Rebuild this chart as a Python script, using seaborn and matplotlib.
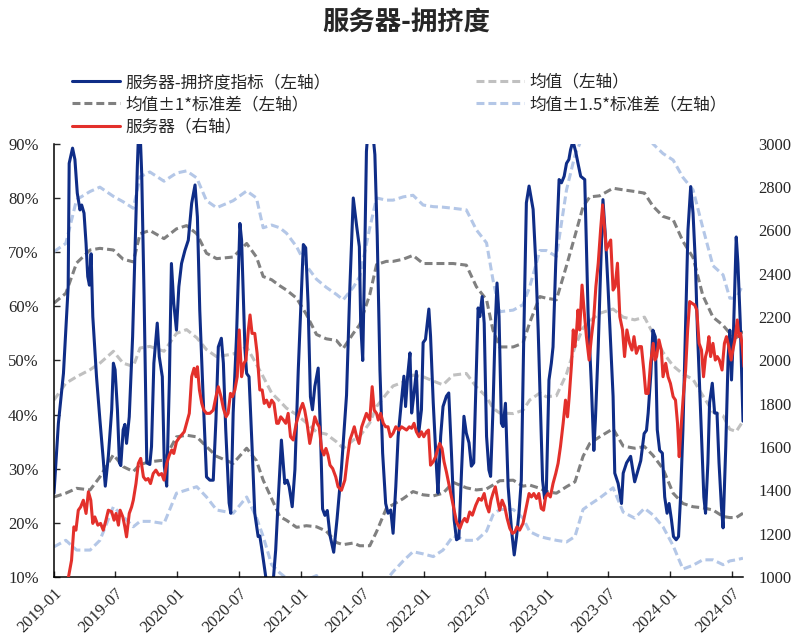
import pandas as pd
import matplotlib
matplotlib.use('Agg')
import matplotlib.pyplot as plt
import matplotlib.dates as mdates
from matplotlib.ticker import FuncFormatter
import seaborn as sns

sns.set_style('ticks')
plt.rcParams['font.family'] = ['Liberation Serif', 'Noto Sans CJK SC']
plt.rcParams['axes.unicode_minus'] = False

START = pd.Timestamp('2019-01-01')

# ---------------------------------------------------------------
# data (x = days since 2019-01-01)
# ---------------------------------------------------------------
# 服务器-拥挤度指标, %
crowd_day = [0, 13, 28, 37, 42, 45, 55, 62, 69, 77, 82, 89, 95, 100, 105, 110, 115, 126, 136, 146,
             152, 161, 171, 176, 181, 188, 194, 198, 205, 210, 215, 223, 233, 240, 247, 250, 256, 260, 267, 275,
             284, 289, 296, 306, 312, 321, 327, 334, 342, 348, 355, 363, 370, 378, 388, 398, 408, 418, 425, 432,
             442, 452, 462, 472, 480, 487, 496, 502, 509, 519, 524, 531, 541, 551, 556, 566, 571, 578, 587, 595,
             605, 610, 615, 622, 630, 640, 650, 657, 664, 674, 684, 691, 697, 706, 714, 724, 734, 739, 746, 753,
             760, 766, 773, 783, 790, 796, 803, 810, 818, 829, 839, 852, 867, 877, 887, 897, 905, 909, 915, 921,
             926, 930, 945, 951, 958, 966, 974, 983, 990, 998, 1005, 1013, 1020, 1030, 1037, 1042, 1048, 1055, 1060, 1066,
             1074, 1081, 1089, 1094, 1101, 1111, 1116, 1124, 1134, 1138, 1146, 1153, 1163, 1170, 1178, 1186, 1193, 1200, 1208, 1215,
             1222, 1230, 1237, 1244, 1252, 1257, 1262, 1269, 1275, 1282, 1289, 1294, 1301, 1308, 1313, 1319, 1326, 1331, 1338, 1346,
             1356, 1364, 1371, 1378, 1385, 1392, 1400, 1408, 1420, 1428, 1435, 1442, 1448, 1454, 1459, 1467, 1474, 1479, 1487, 1497,
             1504, 1512, 1519, 1526, 1531, 1538, 1546, 1553, 1561, 1573, 1583, 1592, 1600, 1605, 1613, 1620, 1627, 1635, 1642, 1647,
             1657, 1662, 1672, 1682, 1687, 1697, 1709, 1721, 1731, 1739, 1749, 1756, 1761, 1769, 1775, 1782, 1788, 1795, 1803, 1810,
             1817, 1823, 1830, 1836, 1844, 1851, 1857, 1864, 1871, 1879, 1887, 1894, 1901, 1907, 1914, 1920, 1926, 1931, 1938, 1943,
             1951, 1958, 1965, 1971, 1978, 1983, 1991, 1998, 2003, 2008, 2014, 2022, 2027, 2034, 2042]
crowd_pct = [25.5, 38.4, 47.6, 58.1, 63.6, 86.4, 89.2, 87.1, 80.9, 77.8, 78.7, 77.2, 71.6, 65.5, 63.9, 69.7, 58.1, 47.0, 39.1, 31.7,
             26.8, 32.3, 40.9, 49.5, 48.3, 40.9, 31.1, 30.6, 37.2, 38.2, 34.7, 39.6, 54.4, 70.3, 85.8, 91.0, 91.0, 84.4, 61.8, 31.1,
             30.8, 34.1, 49.5, 56.9, 50.7, 47.0, 30.5, 26.8, 46.4, 67.9, 60.5, 55.6, 63.6, 67.9, 70.3, 72.2, 79.0, 82.4, 76.5, 59.3,
             43.3, 28.5, 27.9, 27.9, 39.1, 52.5, 54.1, 49.5, 37.2, 23.7, 21.8, 40.3, 54.5, 75.3, 72.2, 52.0, 47.6, 47.0, 34.1, 21.8,
             17.5, 17.6, 15.6, 12.5, 9.0, 7.0, 9.5, 15.0, 23.6, 35.3, 27.3, 27.9, 26.7, 23.0, 29.8, 48.3, 63.7, 71.4, 70.8, 60.6,
             43.3, 40.9, 45.2, 48.6, 36.2, 22.6, 21.4, 22.3, 17.7, 14.6, 20.8, 30.1, 43.6, 63.7, 80.0, 74.8, 71.0, 56.8, 50.0, 69.8,
             88.6, 92.0, 92.0, 88.0, 73.0, 48.3, 32.9, 23.6, 21.8, 22.4, 18.1, 26.7, 36.0, 42.7, 47.1, 41.5, 47.1, 51.4, 40.3, 43.4,
             48.0, 36.6, 40.9, 53.3, 53.9, 59.5, 54.5, 42.2, 29.8, 25.5, 36.0, 41.5, 43.4, 44.0, 32.9, 20.6, 16.9, 17.2, 29.8, 39.7,
             36.6, 34.8, 30.5, 31.1, 48.3, 59.7, 58.1, 61.8, 56.9, 36.0, 29.8, 28.6, 40.9, 56.9, 64.3, 58.1, 38.4, 37.8, 42.1, 26.7,
             18.7, 14.1, 17.5, 21.8, 27.9, 53.3, 79.1, 82.2, 77.9, 68.0, 55.6, 40.3, 27.9, 24.5, 25.5, 46.4, 49.5, 52.5, 67.9, 83.4,
             82.8, 84.0, 86.4, 87.1, 88.9, 90.5, 88.6, 86.4, 84.0, 83.4, 58.7, 46.4, 33.4, 39.6, 52.5, 66.7, 79.7, 72.2, 63.6, 56.9,
             43.4, 29.2, 27.3, 23.6, 29.2, 31.1, 32.3, 27.6, 29.8, 31.5, 36.5, 37.1, 40.3, 47.6, 55.6, 54.4, 37.2, 33.4, 32.9, 24.8,
             21.8, 23.6, 20.6, 17.5, 16.9, 17.5, 24.8, 37.2, 54.4, 74.1, 82.1, 77.2, 67.9, 55.6, 44.5, 34.6, 24.8, 21.8, 31.1, 42.2,
             45.8, 40.3, 40.3, 31.1, 23.1, 19.1, 34.1, 50.7, 55.6, 46.4, 55.6, 72.8, 67.9, 56.9, 38.8]

# 服务器 index (right axis)
server_day = [43, 52, 59, 65, 72, 79, 87, 95, 102, 109, 115, 121, 130, 138, 146, 154, 161, 171, 178, 184,
              191, 196, 204, 210, 215, 223, 230, 235, 243, 250, 257, 265, 272, 279, 286, 294, 302, 311, 319, 326,
              334, 342, 349, 355, 363, 370, 378, 386, 393, 401, 408, 415, 421, 425, 431, 438, 444, 452, 462, 472,
              480, 487, 495, 502, 510, 516, 523, 529, 536, 543, 549, 556, 563, 569, 576, 581, 587, 595, 602, 610,
              617, 623, 630, 638, 645, 652, 660, 665, 672, 680, 687, 694, 701, 709, 718, 729, 737, 743, 750, 758,
              766, 773, 780, 786, 793, 800, 806, 812, 818, 826, 835, 842, 852, 862, 869, 877, 884, 890, 897, 904,
              912, 919, 926, 936, 943, 949, 956, 961, 968, 976, 983, 990, 997, 1005, 1013, 1023, 1030, 1037, 1045, 1053,
              1060, 1067, 1074, 1082, 1089, 1096, 1104, 1110, 1116, 1124, 1131, 1138, 1143, 1150, 1156, 1163, 1173, 1183, 1193, 1203,
              1210, 1217, 1224, 1232, 1240, 1250, 1259, 1267, 1275, 1282, 1289, 1295, 1301, 1308, 1315, 1321, 1328, 1336, 1343, 1351,
              1359, 1366, 1372, 1380, 1390, 1400, 1408, 1415, 1422, 1430, 1437, 1444, 1451, 1457, 1464, 1471, 1479, 1487, 1494, 1501,
              1509, 1516, 1522, 1527, 1534, 1539, 1544, 1549, 1553, 1558, 1565, 1571, 1578, 1586, 1593, 1600, 1606, 1613, 1620, 1626,
              1632, 1637, 1645, 1650, 1657, 1663, 1670, 1677, 1685, 1691, 1698, 1706, 1713, 1719, 1726, 1734, 1741, 1748, 1754, 1761,
              1768, 1776, 1781, 1786, 1793, 1800, 1805, 1813, 1820, 1827, 1835, 1842, 1848, 1853, 1858, 1865, 1872, 1878, 1884, 1891,
              1899, 1905, 1912, 1919, 1925, 1931, 1936, 1941, 1946, 1953, 1960, 1966, 1972, 1980, 1987, 1993, 2000, 2007, 2012, 2018,
              2025, 2030, 2035, 2040, 2045]
server_idx = [1001, 1078, 1232, 1217, 1309, 1324, 1355, 1294, 1394, 1355, 1248, 1278, 1240, 1248, 1217, 1263, 1309, 1302, 1263, 1294,
              1240, 1309, 1278, 1232, 1186, 1294, 1324, 1355, 1432, 1525, 1548, 1463, 1448, 1455, 1432, 1478, 1494, 1471, 1478, 1448,
              1525, 1564, 1587, 1571, 1625, 1641, 1656, 1671, 1710, 1756, 1925, 1964, 1925, 1971, 1864, 1802, 1771, 1756, 1756, 1771,
              1833, 1879, 1833, 1779, 1740, 1756, 1848, 1833, 1864, 1925, 2141, 1925, 1987, 2002, 2141, 2210, 2125, 2125, 2033, 1864,
              1864, 1802, 1817, 1786, 1817, 1802, 1710, 1710, 1740, 1725, 1710, 1756, 1648, 1633, 1710, 1771, 1802, 1771, 1710, 1617,
              1679, 1740, 1710, 1694, 1594, 1564, 1594, 1564, 1517, 1501, 1463, 1417, 1401, 1448, 1540, 1633, 1664, 1694, 1648, 1617,
              1694, 1725, 1756, 1725, 1879, 1771, 1756, 1725, 1756, 1710, 1694, 1694, 1648, 1664, 1694, 1679, 1694, 1687, 1679, 1694,
              1687, 1710, 1671, 1648, 1671, 1648, 1671, 1679, 1517, 1533, 1556, 1594, 1617, 1594, 1533, 1486, 1409, 1332, 1255, 1225,
              1255, 1271, 1255, 1301, 1286, 1332, 1363, 1355, 1386, 1332, 1301, 1355, 1386, 1417, 1355, 1309, 1355, 1324, 1271, 1225,
              1202, 1209, 1232, 1217, 1248, 1324, 1386, 1370, 1386, 1363, 1386, 1317, 1309, 1370, 1386, 1370, 1432, 1478, 1525, 1602,
              1710, 1817, 1740, 1833, 1987, 2141, 2064, 2141, 2233, 2141, 2348, 2233, 2110, 2002, 2110, 2202, 2341, 2449, 2603, 2718,
              2603, 2510, 2541, 2556, 2325, 2341, 2449, 2202, 2141, 2018, 2141, 2079, 2048, 2110, 2033, 2064, 2064, 1956, 1848, 1848,
              1987, 2079, 2002, 2018, 2095, 2048, 1925, 1987, 1925, 1894, 1833, 1817, 1710, 1556, 1679, 1833, 1956, 2141, 2272, 2264,
              2256, 2233, 2079, 2048, 1925, 2018, 2048, 2110, 2018, 2079, 2002, 2018, 2002, 1956, 2079, 2110, 2064, 2002, 2048, 2095,
              2187, 2110, 2125, 2064, 1971]

# mean / std bands of the crowding index, %
band_day = [0, 35, 67, 107, 136, 176, 205, 235, 255, 284,
            326, 363, 393, 423, 452, 482, 531, 571, 600, 620,
            645, 669, 689, 719, 748, 778, 807, 837, 857, 887,
            906, 936, 956, 985, 1005, 1035, 1064, 1094, 1124, 1153,
            1183, 1222, 1252, 1282, 1301, 1321, 1361, 1390, 1410, 1440,
            1459, 1489, 1519, 1544, 1568, 1588, 1617, 1657, 1687, 1721,
            1750, 1775, 1805, 1835, 1864, 1894, 1923, 1953, 1983, 2003,
            2022, 2042]
band_mean = [42.7, 45.8, 47.0, 48.3, 49.5, 51.7, 49.5, 48.9, 52.3, 52.6,
             51.7, 55.0, 55.7, 54.2, 52.0, 50.7, 51.2, 52.5, 49.3, 47.0,
             44.0, 42.5, 41.2, 40.0, 38.5, 36.8, 36.4, 35.0, 33.8, 35.3,
             36.0, 38.5, 41.5, 43.8, 45.3, 46.0, 47.3, 47.0, 46.2, 45.5,
             47.3, 47.6, 45.1, 43.3, 41.2, 40.3, 40.2, 40.8, 42.7, 44.0,
             43.3, 43.5, 47.5, 52.5, 56.0, 57.3, 58.7, 59.5, 58.0, 57.5,
             58.0, 55.0, 51.5, 49.0, 47.5, 46.5, 43.5, 40.5, 39.8, 37.3,
             36.9, 38.8]
band_up1 = [60.6, 62.4, 68.0, 70.4, 70.7, 70.4, 68.7, 68.2, 73.4, 74.0,
            72.5, 74.3, 74.9, 73.4, 69.8, 68.8, 69.1, 71.6, 69.1, 65.5,
            64.9, 63.8, 63.0, 61.5, 58.5, 54.8, 54.0, 53.7, 52.2, 55.0,
            56.6, 62.2, 67.7, 68.3, 68.3, 68.7, 69.4, 67.9, 67.9, 67.9,
            67.9, 67.6, 63.6, 61.2, 55.6, 52.5, 52.5, 53.2, 57.0, 61.8,
            61.5, 61.2, 67.5, 73.0, 78.4, 80.2, 80.4, 81.8, 81.5, 81.2,
            80.9, 78.5, 76.6, 76.0, 72.0, 69.0, 62.0, 58.0, 56.5, 55.0,
            54.2, 55.4]
band_dn1 = [24.8, 25.5, 26.4, 26.1, 28.5, 32.6, 30.4, 29.5, 30.8, 31.3,
            31.6, 35.9, 36.2, 35.9, 34.1, 32.3, 31.0, 33.8, 31.5, 27.9,
            24.5, 21.2, 20.5, 19.2, 19.5, 19.3, 18.5, 16.4, 16.0, 16.3,
            15.8, 15.8, 18.4, 22.7, 23.4, 24.5, 25.8, 25.2, 25.0, 25.5,
            27.5, 26.5, 26.1, 26.3, 27.0, 27.8, 27.9, 26.8, 27.0, 26.4,
            25.8, 25.5, 26.7, 27.6, 32.3, 34.7, 35.9, 37.4, 34.2, 33.8,
            34.1, 32.5, 30.0, 25.5, 23.6, 23.0, 22.8, 22.4, 21.2, 21.0,
            21.0, 21.8]
band_up15 = [70.1, 71.6, 79.7, 81.2, 82.0, 80.3, 79.3, 78.1, 83.9, 84.8,
             83.1, 84.6, 85.0, 83.7, 79.5, 78.2, 79.5, 81.3, 80.0, 74.5,
             75.0, 74.5, 73.5, 71.0, 67.5, 65.0, 63.5, 62.2, 61.2, 63.5,
             65.5, 74.5, 80.0, 79.6, 79.6, 80.2, 80.5, 78.7, 78.4, 78.3,
             78.1, 77.8, 74.1, 71.7, 64.9, 59.0, 59.3, 60.3, 63.6, 70.3,
             70.3, 69.2, 81.5, 87.9, 91.5, 93.0, 93.5, 94.5, 94.0, 93.5,
             93.0, 90.0, 88.2, 87.0, 83.8, 81.5, 74.5, 67.5, 65.8, 61.5,
             61.5, 64.0]
band_dn15 = [15.6, 16.8, 15.0, 15.0, 16.8, 23.0, 21.2, 19.3, 20.3, 20.3,
             19.9, 25.5, 26.1, 26.7, 24.8, 22.4, 21.8, 24.8, 21.0, 17.5,
             12.3, 10.8, 9.8, 9.0, 9.5, 10.3, 8.5, 6.0, 5.0, 4.5,
             5.0, 5.5, 7.5, 9.5, 11.0, 13.0, 14.7, 14.3, 13.8, 15.0,
             17.6, 16.8, 16.8, 18.5, 21.5, 22.5, 22.5, 20.9, 18.4, 17.5,
             17.2, 16.8, 16.5, 17.5, 22.5, 23.4, 24.6, 26.5, 22.0, 20.9,
             22.7, 21.5, 19.3, 15.8, 11.5, 12.2, 13.2, 13.2, 12.3, 13.0,
             13.2, 13.5]

tick_dates = pd.date_range('2019-01-01', '2024-07-01', freq='6MS')


def to_dates(days):
    return START + pd.to_timedelta(days, unit='D')


crowd = pd.DataFrame({'date': to_dates(crowd_day), 'value': crowd_pct})
server = pd.DataFrame({'date': to_dates(server_day), 'value': server_idx})
bands = pd.DataFrame({'date': to_dates(band_day), 'mean': band_mean,
                      'up1': band_up1, 'dn1': band_dn1,
                      'up15': band_up15, 'dn15': band_dn15})

# ---------------------------------------------------------------
# plot
# ---------------------------------------------------------------
fig, ax = plt.subplots(figsize=(8.12, 6.42), dpi=100)
fig.subplots_adjust(left=0.0665, right=0.915, bottom=0.101, top=0.776)

dash = (0, (2.6, 1.3))
lw = 2.2
sns.lineplot(data=bands, x='date', y='mean', ax=ax, color='#c0c0c0', lw=lw, ls=dash,
             legend=False, label='均值（左轴）')
sns.lineplot(data=bands, x='date', y='up15', ax=ax, color='#b4c7e7', lw=lw, ls=dash,
             legend=False, label='均值±1.5*标准差（左轴）')
sns.lineplot(data=bands, x='date', y='dn15', ax=ax, color='#b4c7e7', lw=lw, ls=dash, legend=False)
sns.lineplot(data=bands, x='date', y='up1', ax=ax, color='#808080', lw=lw, ls=dash,
             legend=False, label='均值±1*标准差（左轴）')
sns.lineplot(data=bands, x='date', y='dn1', ax=ax, color='#808080', lw=lw, ls=dash, legend=False)
sns.lineplot(data=crowd, x='date', y='value', ax=ax, color='#0f2d87', lw=lw,
             legend=False, label='服务器-拥挤度指标（左轴）')

ax2 = ax.twinx()
sns.lineplot(data=server, x='date', y='value', ax=ax2, color='#e3302b', lw=lw,
             legend=False, label='服务器（右轴）')

ax.set_xlim(START, pd.Timestamp('2024-08-04'))
ax.set_ylim(10, 90)
ax.set_yticks(range(10, 91, 10))
ax.yaxis.set_major_formatter(FuncFormatter(lambda v, p: f'{v:.0f}%'))
ax.set_xticks(tick_dates)
ax.xaxis.set_major_formatter(mdates.DateFormatter('%Y-%m'))
ax2.set_ylim(1000, 3000)
ax2.set_yticks(range(1000, 3001, 200))

for a in (ax, ax2):
    a.set_xlabel('')
    a.set_ylabel('')
ax.tick_params(axis='x', direction='in', length=4, width=1, labelsize=12, pad=6)
ax.tick_params(axis='y', direction='in', length=4, width=1, labelsize=12, pad=11)
ax2.tick_params(axis='y', length=0, labelsize=12, pad=11)
plt.setp(ax.get_xticklabels(), rotation=45, ha='right', rotation_mode='anchor')

sns.despine(ax=ax, top=True, right=True)
for s in ax2.spines.values():
    s.set_visible(False)
for s in ('left', 'bottom'):
    ax.spines[s].set_color('black')
    ax.spines[s].set_linewidth(1.1)

fig.suptitle('服务器-拥挤度', x=0.5, y=0.987, fontsize=19, fontweight='bold',
             family=['Noto Sans CJK SC'])

h1, l1 = ax.get_legend_handles_labels()
h2, l2 = ax2.get_legend_handles_labels()
lookup = dict(zip(l1 + l2, h1 + h2))
order = ['服务器-拥挤度指标（左轴）', '均值±1*标准差（左轴）', '服务器（右轴）',
         '均值（左轴）', '均值±1.5*标准差（左轴）']
fig.legend([lookup[k] for k in order], order, loc='upper left',
           bbox_to_anchor=(0.0887, 0.885), ncol=2, frameon=False,
           prop={'family': ['Noto Sans CJK SC'], 'size': 12},
           handlelength=2.9, handletextpad=0.3, columnspacing=8.7,
           labelspacing=0.32, borderpad=0, borderaxespad=0)

plt.savefig('out.png', dpi=100)
plt.close()
